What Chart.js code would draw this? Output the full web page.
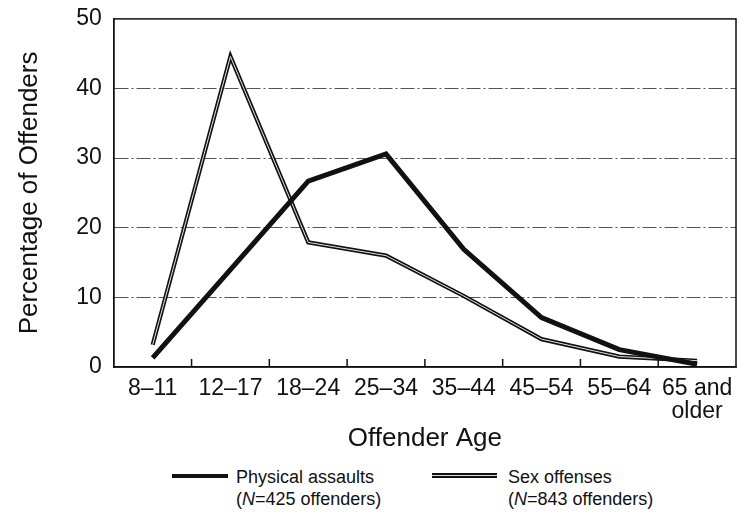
<!DOCTYPE html>
<html>
<head>
<meta charset="utf-8">
<script src="https://cdn.jsdelivr.net/npm/chart.js@4/dist/chart.umd.min.js"></script>
<style>
  body { margin: 0; background: #fff; font-family: "Liberation Sans", Arial, sans-serif; }
  #wrap { position: relative; width: 742px; height: 518px; }
  #box { position: absolute; left: 0; top: 0; width: 742px; height: 452px; }
  .key { position: absolute; font-size: 18px; line-height: 22px; color: #111; }
  .swatch { position: absolute; }
</style>
</head>
<body>
<div id="wrap">
  <div id="box"><canvas id="offenders"></canvas></div>
  <div class="swatch" style="left:172px;top:474px;width:56px;height:4px;background:#111"></div>
  <div class="key" style="left:236px;top:466px">Physical assaults<br>(<i>N</i>=425 offenders)</div>
  <div class="swatch" style="left:432px;top:473px;width:65px;height:1px;background:#ddd;border-top:2px solid #111;border-bottom:2px solid #111"></div>
  <div class="key" style="left:508px;top:466px">Sex offenses<br>(<i>N</i>=843 offenders)</div>
</div>
<script>
var ageGroups = ["8–11", "12–17", "18–24", "25–34", "35–44", "45–54", "55–64", ["65 and", "older"]];
var physicalAssaults = [1.3, 14, 26.7, 30.6, 16.9, 7.1, 2.5, 0.4];
var sexOffenses = [3.2, 44.6, 17.9, 16.0, 10.2, 4.0, 1.5, 0.9];
var yTicks = [0, 10, 20, 30, 40, 50];

// light core of the double line, frame and the inward x tick marks
var extras = {
  id: "extras",
  afterDatasetDraw: function (chart, args) {
    if (args.index !== 1) return;
    var ctx = chart.ctx;
    var pts = args.meta.data;
    ctx.save();
    ctx.beginPath();
    pts.forEach(function (p, i) {
      if (i === 0) ctx.moveTo(p.x, p.y); else ctx.lineTo(p.x, p.y);
    });
    ctx.strokeStyle = "#e4e4e4";
    ctx.lineWidth = 1;
    ctx.stroke();
    ctx.restore();
  },
  afterDraw: function (chart) {
    var ctx = chart.ctx;
    var a = chart.chartArea;
    var x = chart.scales.x;
    ctx.save();
    ctx.strokeStyle = "#111";
    ctx.lineWidth = 1.5;
    ctx.strokeRect(a.left, a.top, a.right - a.left, a.bottom - a.top);
    ctx.beginPath();
    for (var i = 1; i < ageGroups.length; i++) {
      var px = (x.getPixelForValue(i - 1) + x.getPixelForValue(i)) / 2;
      ctx.moveTo(px, a.bottom);
      ctx.lineTo(px, a.bottom - 8);
    }
    ctx.stroke();
    ctx.restore();
  }
};

new Chart(document.getElementById("offenders").getContext("2d"), {
  type: "line",
  data: {
    labels: ageGroups,
    datasets: [
      {
        label: "Physical assaults",
        data: physicalAssaults,
        borderColor: "#111",
        borderWidth: 5,
        pointRadius: 0,
        tension: 0
      },
      {
        label: "Sex offenses",
        data: sexOffenses,
        borderColor: "#111",
        borderWidth: 4.2,
        pointRadius: 0,
        tension: 0
      }
    ]
  },
  options: {
    responsive: true,
    maintainAspectRatio: false,
    animation: false,
    layout: { padding: { top: 0, right: 6, left: 14, bottom: 0 } },
    plugins: {
      legend: { display: false },
      tooltip: { enabled: false }
    },
    scales: {
      x: {
        offset: true,
        grid: { display: false },
        border: { display: true, color: "#111", width: 1.5 },
        ticks: {
          color: "#111",
          padding: 2,
          maxRotation: 0,
          autoSkip: false,
          font: { family: "Liberation Sans", size: 23, lineHeight: 1.0 }
        },
        title: {
          display: true,
          text: "Offender Age",
          color: "#111",
          padding: { top: 1, bottom: 0 },
          font: { family: "Liberation Sans", size: 26, lineHeight: 1.0 }
        }
      },
      y: {
        min: 0,
        max: 50,
        afterBuildTicks: function (scale) {
          scale.ticks = yTicks.map(function (v) { return { value: v }; });
        },
        grid: {
          drawTicks: false,
          lineWidth: 1,
          color: function (c) {
            return c.tick && c.tick.value > 0 && c.tick.value < 50 ? "#555" : "rgba(0,0,0,0)";
          }
        },
        border: { display: true, color: "#111", width: 1.5, dash: [14, 3, 2, 3] },
        ticks: {
          color: "#111",
          padding: 12,
          font: { family: "Liberation Sans", size: 23, lineHeight: 0.6 }
        },
        title: {
          display: true,
          text: "Percentage of Offenders",
          color: "#111",
          padding: { top: 0, bottom: 19 },
          font: { family: "Liberation Sans", size: 26 }
        }
      }
    }
  },
  plugins: [extras]
});
</script>
</body>
</html>
